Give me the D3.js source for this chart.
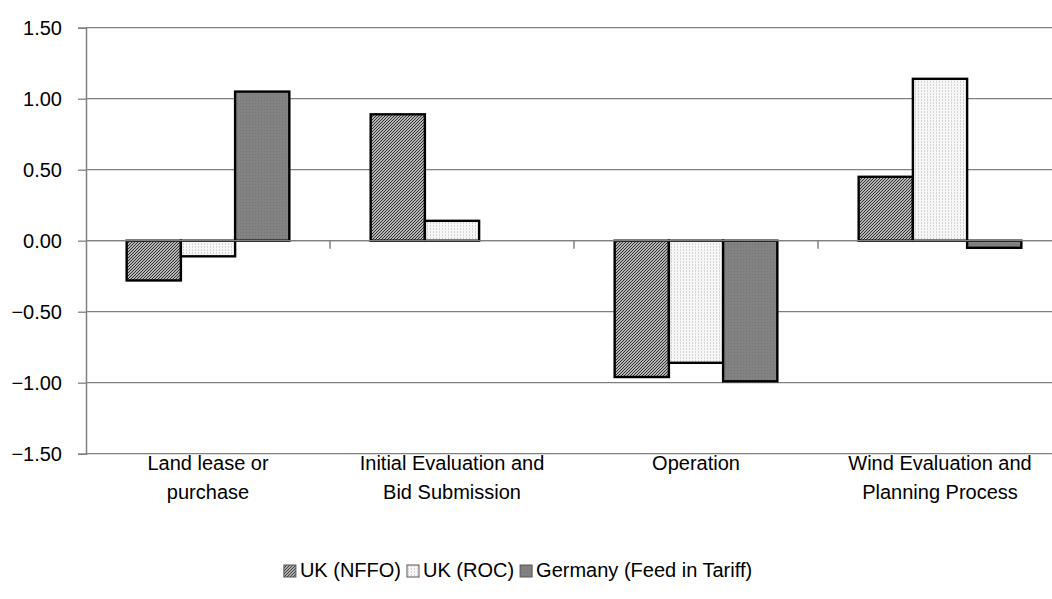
<!DOCTYPE html>
<html>
<head>
<meta charset="utf-8">
<script src="https://cdn.jsdelivr.net/npm/d3@7"></script>
<style>
  html, body { margin: 0; padding: 0; background: #fff; }
  svg { display: block; font-family: "Liberation Sans", Arial, sans-serif; }
</style>
</head>
<body>
<svg id="chart" width="1052" height="599"></svg>
<script>
// Categories (two-line labels) and series
const categories = [
  ["Land lease or", "purchase"],
  ["Initial Evaluation and", "Bid Submission"],
  ["Operation"],
  ["Wind Evaluation and", "Planning Process"]
];
const seriesNames = ["UK (NFFO)", "UK (ROC)", "Germany (Feed in Tariff)"];
const ukNffo   = [-0.28, 0.89, -0.96, 0.45];
const ukRoc    = [-0.11, 0.14, -0.86, 1.14];
const germany  = [ 1.05, 0.00, -0.99, -0.05];
const yTicks   = [-1.5, -1.0, -0.5, 0, 0.5, 1.0, 1.5];

const seriesValues = [ukNffo, ukRoc, germany];
const fills = ["url(#pNffo)", "url(#pRoc)", "url(#pGer)"];
const fontSize = 20;

const svg = d3.select("#chart");

// Fill patterns
const defs = svg.append("defs");
const p1 = defs.append("pattern").attr("id", "pNffo")
  .attr("patternUnits", "userSpaceOnUse").attr("width", 3).attr("height", 3);
p1.append("rect").attr("width", 3).attr("height", 3).attr("fill", "#f4f4f4");
p1.append("path").attr("d", "M-1,1 L1,-1 M0,3 L3,0 M2,4 L4,2")
  .attr("stroke", "#2a2a2a").attr("stroke-width", 1.2);

const p2 = defs.append("pattern").attr("id", "pRoc")
  .attr("patternUnits", "userSpaceOnUse").attr("width", 3).attr("height", 3);
p2.append("rect").attr("width", 3).attr("height", 3).attr("fill", "#f7f7f7");
p2.append("rect").attr("x", 1).attr("y", 0).attr("width", 1).attr("height", 2).attr("fill", "#d4d4d4");

const p3 = defs.append("pattern").attr("id", "pGer")
  .attr("patternUnits", "userSpaceOnUse").attr("width", 3).attr("height", 3);
p3.append("rect").attr("width", 3).attr("height", 3).attr("fill", "#828282");
p3.append("rect").attr("x", 1).attr("y", 1).attr("width", 1).attr("height", 1).attr("fill", "#747474");

// Plot geometry
const plotLeft = 86, plotRight = 1062, plotTop = 27.7, plotBottom = 453.7;

const y = d3.scaleLinear().domain([-1.5, 1.5]).range([plotBottom, plotTop]);
const x0 = d3.scaleBand().domain(d3.range(categories.length)).range([plotLeft, plotRight]).padding(0);
const cw = x0.bandwidth();
const barW = cw / 4.5;
const x1 = d3.scaleBand().domain(d3.range(seriesNames.length))
  .range([(cw - 3 * barW) / 2, (cw + 3 * barW) / 2]).padding(0);

// Gridlines
svg.append("g").selectAll("line").data(yTicks).join("line")
  .attr("x1", plotLeft).attr("x2", plotRight)
  .attr("y1", d => y(d)).attr("y2", d => y(d))
  .attr("stroke", "#808080").attr("stroke-width", 1.3);

// Y axis
const yAxis = svg.append("g").attr("transform", `translate(${plotLeft},0)`)
  .call(d3.axisLeft(y).tickValues(yTicks).tickFormat(d3.format(".2f")).tickSize(8).tickPadding(16));
yAxis.select(".domain").attr("stroke", "#808080").attr("stroke-width", 1.5);
yAxis.selectAll(".tick line").attr("stroke", "#808080").attr("stroke-width", 1.3);
yAxis.selectAll(".tick text").attr("font-size", fontSize).attr("fill", "#000")
  .attr("font-family", "Liberation Sans, Arial, sans-serif");

// Bars
const groups = svg.append("g").selectAll("g").data(categories).join("g")
  .attr("transform", (d, i) => `translate(${x0(i)},0)`);
groups.each(function (c, ci) {
  d3.select(this).selectAll("rect")
    .data(seriesValues.map((vals, si) => ({ si, v: vals[ci] })).filter(d => d.v !== 0))
    .join("rect")
    .attr("x", d => x1(d.si))
    .attr("width", x1.bandwidth())
    .attr("y", d => y(Math.max(0, d.v)))
    .attr("height", d => Math.abs(y(d.v) - y(0)))
    .attr("fill", d => fills[d.si])
    .attr("stroke", "#000").attr("stroke-width", 2.4);
});

// Zero line with category separator ticks
svg.append("line").attr("x1", plotLeft).attr("x2", plotRight)
  .attr("y1", y(0)).attr("y2", y(0)).attr("stroke", "#808080").attr("stroke-width", 1.3);
svg.append("g").selectAll("line").data(d3.range(1, categories.length)).join("line")
  .attr("x1", d => x0(d)).attr("x2", d => x0(d))
  .attr("y1", y(0)).attr("y2", y(0) + 8)
  .attr("stroke", "#808080").attr("stroke-width", 1.5);

// Category labels
const labels = svg.append("g").selectAll("text").data(categories).join("text")
  .attr("text-anchor", "middle").attr("font-size", fontSize).attr("fill", "#000");
labels.each(function (lines, i) {
  const t = d3.select(this);
  lines.forEach((ln, k) => {
    t.append("tspan").attr("x", x0(i) + cw / 2).attr("y", 470 + k * 29).text(ln);
  });
});

// Legend, centred under the plot
const legend = svg.append("g");
const legendItems = legend.selectAll("g").data(seriesNames).join("g");
legendItems.append("rect").attr("width", 12).attr("height", 12)
  .attr("fill", (d, i) => fills[i]).attr("stroke", "#555").attr("stroke-width", 1);
legendItems.append("text").attr("x", 16).attr("y", 12).attr("font-size", fontSize)
  .attr("fill", "#000").text(d => d);
let lx = 0;
legendItems.each(function () {
  d3.select(this).attr("transform", `translate(${lx},0)`);
  lx += this.getBBox().width + 6;
});
const legendW = lx - 6;
legend.attr("transform", `translate(${518 - legendW / 2},565)`);
</script>
</body>
</html>
